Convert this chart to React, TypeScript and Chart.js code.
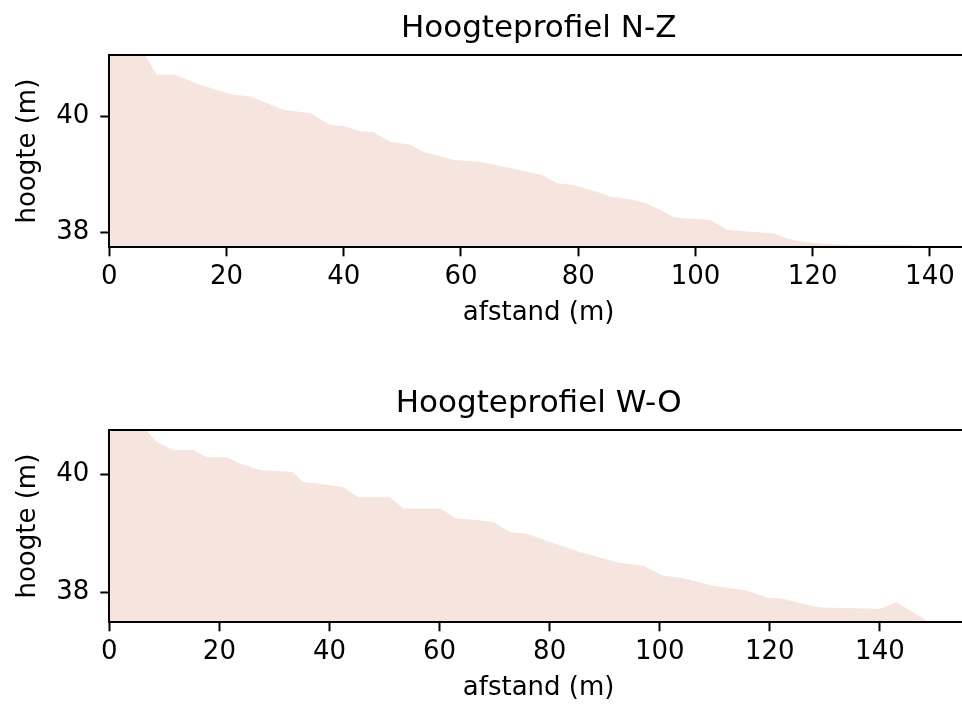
import React, { useEffect, useRef } from "react";
import { Chart, registerables } from "chart.js";

Chart.register(...registerables);

// ---- Data: profile N-Z (afstand in m, hoogte in m) ----
const nzDistance = [0, 5.5, 8.1, 11.2, 15.5, 21.1, 24, 29.7, 34.3, 37.7, 40, 42.8, 45, 47.9, 51.3, 53.6, 58.7, 63.3, 68.4, 73.8, 76.4, 79.2, 83.5, 85.5, 89.4, 91.5, 94.6, 96.3, 98, 102.6, 105.4, 108.8, 113.3, 115.7, 117.9, 121.9, 125.9, 136.7, 138];
const nzHeight = [41.15, 41.15, 40.71, 40.71, 40.54, 40.37, 40.34, 40.11, 40.05, 39.85, 39.83, 39.74, 39.73, 39.56, 39.51, 39.39, 39.25, 39.22, 39.11, 38.99, 38.85, 38.82, 38.69, 38.62, 38.56, 38.51, 38.36, 38.27, 38.25, 38.22, 38.05, 38.02, 37.99, 37.9, 37.85, 37.81, 37.79, 37.79, 37.76];

// ---- Data: profile W-O ----
const woDistance = [0, 6.2, 8.6, 11.6, 15.3, 17.7, 21.3, 23.7, 27.4, 33.4, 35.2, 38.3, 42.5, 45.2, 51, 53.4, 60.1, 63.1, 67.3, 69.8, 72.8, 75.8, 80.1, 85.5, 92.2, 97, 100.6, 103.7, 109.7, 115.8, 119.4, 122.4, 126.1, 129.1, 140, 143, 148.5, 149.5];
const woHeight = [40.8, 40.8, 40.55, 40.41, 40.41, 40.29, 40.29, 40.18, 40.07, 40.04, 39.87, 39.84, 39.78, 39.61, 39.61, 39.42, 39.42, 39.25, 39.22, 39.19, 39.02, 38.99, 38.85, 38.68, 38.51, 38.45, 38.28, 38.25, 38.11, 38.03, 37.91, 37.89, 37.8, 37.74, 37.72, 37.83, 37.52, 37.45];

// ---- Tick labels ----
const xTicks = [0, 20, 40, 60, 80, 100, 120, 140];
const yTicks = [38, 40];

const titles = ["Hoogteprofiel N-Z", "Hoogteprofiel W-O"];
const xLabel = "afstand (m)";
const yLabel = "hoogte (m)";

const FONT = "'DejaVu Sans', sans-serif";
const FILL = "rgb(246, 229, 222)";
const CANVAS_W = 968;
const CANVAS_H = 329;

const topSpine = {
  id: "topSpine",
  afterDatasetsDraw(chart: any) {
    const { ctx, chartArea } = chart;
    ctx.save();
    ctx.strokeStyle = "#000";
    ctx.lineWidth = 2;
    ctx.beginPath();
    ctx.moveTo(chartArea.left - 1, chartArea.top);
    ctx.lineTo(chartArea.right + 1, chartArea.top);
    ctx.stroke();
    ctx.restore();
  },
};

function Profile(props: {
  title: string;
  xs: number[];
  ys: number[];
  xMax: number;
  yMin: number;
  yMax: number;
}) {
  const ref = useRef<HTMLCanvasElement | null>(null);
  useEffect(() => {
    if (!ref.current) return;
    const chart = new Chart(ref.current, {
      type: "line",
      data: {
        datasets: [
          {
            data: props.xs.map((x, i) => ({ x, y: props.ys[i] })),
            fill: "start",
            backgroundColor: FILL,
            borderWidth: 0,
            borderColor: "rgba(0,0,0,0)",
            pointRadius: 0,
            tension: 0,
          },
        ],
      },
      options: {
        responsive: false,
        animation: false,
        events: [],
        layout: { padding: 0 },
        plugins: {
          legend: { display: false },
          tooltip: { enabled: false },
          title: {
            display: true,
            text: props.title,
            fullSize: false,
            color: "#000",
            font: { family: FONT, size: 31, weight: "normal" as any, lineHeight: 1.2 },
            padding: { top: 10, bottom: 7.8 },
          },
        },
        scales: {
          x: {
            type: "linear",
            min: 0,
            max: props.xMax,
            afterBuildTicks: (scale: any) => {
              scale.ticks = xTicks.map((v) => ({ value: v }));
            },
            afterFit: (scale: any) => {
              scale.height = CANVAS_H - 247.3;
            },
            ticks: {
              color: "#000",
              font: { family: FONT, size: 26, lineHeight: 1.2 },
              padding: 5,
              maxRotation: 0,
              autoSkip: false,
            },
            grid: {
              drawOnChartArea: false,
              drawTicks: true,
              tickLength: 9,
              tickColor: "#000",
              tickWidth: 2,
            },
            border: { display: true, color: "#000", width: 2, z: 1 },
            title: {
              display: true,
              text: xLabel,
              color: "#000",
              font: { family: FONT, size: 26, lineHeight: 1.2 },
              padding: { top: 0, bottom: 0.5 },
            },
          },
          y: {
            type: "linear",
            min: props.yMin,
            max: props.yMax,
            afterBuildTicks: (scale: any) => {
              scale.ticks = yTicks.map((v) => ({ value: v }));
            },
            afterFit: (scale: any) => {
              scale.width = 109.3;
            },
            ticks: {
              color: "#000",
              font: { family: FONT, size: 26, lineHeight: 1.2 },
              padding: 11,
              autoSkip: false,
            },
            grid: {
              drawOnChartArea: false,
              drawTicks: true,
              tickLength: 9,
              tickColor: "#000",
              tickWidth: 2,
            },
            border: { display: true, color: "#000", width: 2, z: 1 },
            title: {
              display: true,
              text: yLabel,
              color: "#000",
              font: { family: FONT, size: 26, lineHeight: 1.2 },
              padding: { top: 12.4, bottom: 0 },
            },
          },
        },
      } as any,
      plugins: [topSpine],
    });
    return () => chart.destroy();
  }, []);
  return (
    <canvas
      ref={ref}
      width={CANVAS_W}
      height={CANVAS_H}
      style={{ width: CANVAS_W, height: CANVAS_H, display: "block" }}
    />
  );
}

export default function App() {
  return (
    <div
      style={{
        position: "fixed",
        left: 0,
        top: 0,
        width: 962,
        height: 704,
        overflow: "hidden",
        background: "#fff",
      }}
    >
      <div style={{ position: "absolute", left: 0, top: 0 }}>
        <Profile title={titles[0]} xs={nzDistance} ys={nzHeight} xMax={146.5} yMin={37.75} yMax={41.05} />
      </div>
      <div style={{ position: "absolute", left: 0, top: 375 }}>
        <Profile title={titles[1]} xs={woDistance} ys={woHeight} xMax={156} yMin={37.49} yMax={40.75} />
      </div>
    </div>
  );
}
